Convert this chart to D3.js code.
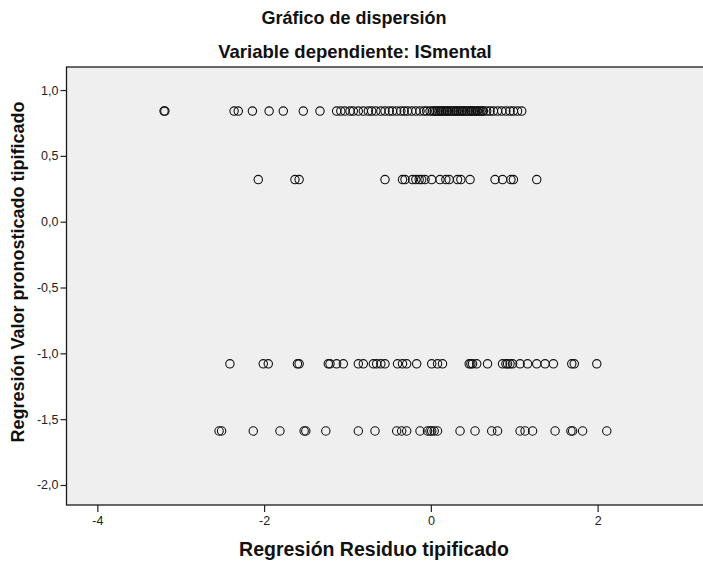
<!DOCTYPE html>
<html><head><meta charset="utf-8">
<script src="https://cdn.jsdelivr.net/npm/d3@7"></script>
<style>body{margin:0;background:#fff}svg text{font-family:"Liberation Sans",Arial,sans-serif}</style>
</head><body><svg id="c" width="703" height="562"></svg>
<script>
const title1 = "Gráfico de dispersión";
const title2 = "Variable dependiente: ISmental";
const xTitle = "Regresión Residuo tipificado";
const yTitle = "Regresión Valor pronosticado tipificado";
const xTicks = [-4, -2, 0, 2];
const yTicks = [1.0, 0.5, 0.0, -0.5, -1.0, -1.5, -2.0];
const rowPredicted = [0.84, 0.32, -1.08, -1.59];
const row1Residuals = [-3.20,-3.19,-2.36,-2.31,-2.14,-1.94,-1.77,-1.53,-1.33,-1.13,-1.08,-1.03,-0.97,-0.93,-0.87,-0.81,-0.75,-0.71,-0.66,-0.60,-0.55,-0.50,-0.46,-0.41,-0.36,-0.32,-0.28,-0.23,-0.18,-0.13,-0.08,-0.05,-0.01,0.02,0.04,0.06,0.08,0.10,0.12,0.13,0.15,0.17,0.19,0.20,0.22,0.24,0.26,0.28,0.30,0.31,0.33,0.35,0.37,0.38,0.40,0.42,0.44,0.46,0.48,0.49,0.51,0.53,0.55,0.56,0.58,0.60,0.62,0.63,0.67,0.71,0.75,0.80,0.85,0.90,0.95,0.99,1.04,1.09];
const row2Residuals = [-2.07,-1.63,-1.58,-0.55,-0.34,-0.31,-0.22,-0.18,-0.14,-0.11,-0.07,0.01,0.11,0.18,0.22,0.32,0.36,0.47,0.77,0.86,0.96,0.99,1.27];
const row3Residuals = [-2.41,-2.01,-1.95,-1.60,-1.58,-1.23,-1.21,-1.13,-1.05,-0.87,-0.81,-0.69,-0.65,-0.60,-0.55,-0.40,-0.34,-0.29,-0.17,0.01,0.08,0.14,0.46,0.48,0.50,0.55,0.68,0.86,0.90,0.92,0.95,0.98,1.07,1.16,1.27,1.37,1.47,1.69,1.72,1.99];
const row4Residuals = [-2.54,-2.51,-2.13,-1.81,-1.52,-1.50,-1.26,-0.87,-0.67,-0.41,-0.35,-0.29,-0.13,-0.04,-0.01,0.01,0.04,0.08,0.35,0.53,0.73,0.80,1.07,1.13,1.22,1.49,1.68,1.70,1.82,2.11];

const rows = [row1Residuals,row2Residuals,row3Residuals,row4Residuals];
const points = [];
rows.forEach((r,i)=>r.forEach(v=>points.push({x:v,y:rowPredicted[i]})));

const svg = d3.select("#c");
const L=66.5, R=706, T=67, B=505;
const x = d3.scaleLinear().domain([-4.37,3.3]).range([L,R]);
const y = d3.scaleLinear().domain([-2.152,1.175]).range([B,T]);

svg.append("rect").attr("x",L).attr("y",T).attr("width",R-L).attr("height",B-T)
  .attr("fill","#efefef").attr("stroke","#1a1a1a").attr("stroke-width",1.3);

const fmt = d=>d3.format(".1f")(d).replace(".",",").replace("−","-");
const ya = svg.append("g").attr("transform",`translate(${L},0)`)
  .call(d3.axisLeft(y).tickValues(yTicks).tickSize(6).tickPadding(2).tickFormat(fmt));
ya.select(".domain").remove();
ya.selectAll("line").attr("stroke","#222").attr("stroke-width",1.2);
ya.selectAll("text").attr("font-size",12.5).attr("fill","#222").style("font-family","Liberation Sans, Arial, sans-serif");

const xa = svg.append("g").attr("transform",`translate(0,${B})`)
  .call(d3.axisBottom(x).tickValues(xTicks).tickSize(7).tickPadding(4).tickFormat(d=>String(d)));
xa.select(".domain").remove();
xa.selectAll("line").attr("stroke","#222").attr("stroke-width",1.2);
xa.selectAll("text").attr("font-size",12.5).attr("fill","#222").style("font-family","Liberation Sans, Arial, sans-serif");

svg.append("g").selectAll("circle").data(points).join("circle")
  .attr("cx",d=>x(d.x)).attr("cy",d=>y(d.y)).attr("r",4.2)
  .attr("fill","none").attr("stroke","#111").attr("stroke-width",1.1);

svg.append("text").attr("x",354).attr("y",24).attr("text-anchor","middle")
  .attr("font-size",18).attr("font-weight","bold").attr("fill","#111").text(title1);
svg.append("text").attr("x",355).attr("y",58).attr("text-anchor","middle")
  .attr("font-size",18.5).attr("font-weight","bold").attr("fill","#111").text(title2);
svg.append("text").attr("x",374).attr("y",556).attr("text-anchor","middle")
  .attr("font-size",19.5).attr("font-weight","bold").attr("fill","#111").text(xTitle);
svg.append("text").attr("transform","translate(24,272) rotate(-90)").attr("text-anchor","middle")
  .attr("font-size",18).attr("font-weight","bold").attr("fill","#111").text(yTitle);
</script></body></html>
